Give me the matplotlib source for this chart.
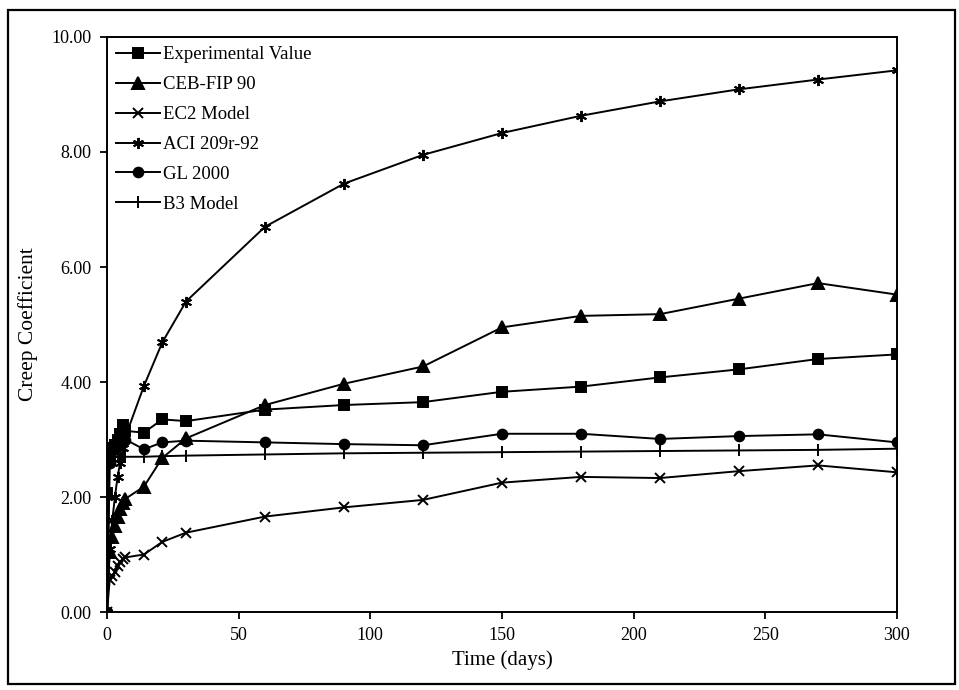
import matplotlib.pyplot as plt
from matplotlib.patches import Rectangle

# time points (days)
days = [0, 1, 2, 3, 4, 5, 6, 7, 14, 21, 30, 60, 90, 120, 150, 180, 210, 240, 270, 300]

experimental = [2.07, 2.70, 2.85, 2.90, 3.00, 3.10, 3.25, 3.15, 3.12, 3.35, 3.32, 3.52, 3.60, 3.65,
                3.83, 3.92, 4.08, 4.22, 4.40, 4.48]
ceb_fip = [0.0, 1.05, 1.30, 1.50, 1.65, 1.80, 1.90, 1.97, 2.18, 2.68, 3.02, 3.60, 3.97, 4.27,
           4.95, 5.15, 5.18, 5.45, 5.72, 5.52]
ec2 = [0.0, 0.55, 0.62, 0.70, 0.80, 0.87, 0.92, 0.95, 1.00, 1.22, 1.38, 1.66, 1.82, 1.95,
       2.25, 2.35, 2.33, 2.45, 2.55, 2.43]
aci = [0.0, 1.10, 1.60, 2.00, 2.35, 2.60, 2.85, 3.05, 3.93, 4.69, 5.40, 6.70, 7.45, 7.95,
       8.33, 8.63, 8.88, 9.09, 9.26, 9.42]
gl2000 = [0.0, 2.60, 2.80, 2.90, 3.00, 3.05, 3.05, 3.00, 2.83, 2.95, 2.98, 2.95, 2.92, 2.90,
          3.10, 3.10, 3.01, 3.06, 3.09, 2.95]
b3 = [0.0, 2.65, 2.68, 2.69, 2.70, 2.70, 2.70, 2.70, 2.70, 2.71, 2.72, 2.74, 2.76, 2.77,
      2.78, 2.79, 2.80, 2.81, 2.82, 2.84]

series = [
    ('Experimental Value', experimental, 's', 7),
    ('CEB-FIP 90', ceb_fip, '^', 8),
    ('EC2 Model', ec2, 'x', 6.5),
    ('ACI 209r-92', aci, (6, 2, 0), 8),
    ('GL 2000', gl2000, 'o', 7),
    ('B3 Model', b3, '|', 8),
]

plt.rcParams['font.family'] = ['Liberation Serif', 'DejaVu Serif']

fig = plt.figure(figsize=(9.59, 6.90), dpi=100)
ax = fig.add_axes([0.1116, 0.113, 0.8237, 0.8334])

for name, vals, mk, ms in series:
    ax.plot(days, vals, color='black', linewidth=1.4, marker=mk, markersize=ms,
            markeredgewidth=1.4, label=name)

ax.set_xlim(0, 300)
ax.set_ylim(0, 10)
ax.set_xticks(range(0, 301, 50))
ax.set_yticks([0, 2, 4, 6, 8, 10])
ax.set_yticklabels(['%.2f' % v for v in [0, 2, 4, 6, 8, 10]])
ax.tick_params(direction='out', length=5, width=1.3, labelsize=13, pad=6)
for s in ax.spines.values():
    s.set_linewidth(1.4)

ax.set_xlabel('Time (days)', fontsize=15, labelpad=4)
ax.set_ylabel('Creep Coefficient', fontsize=15.5, labelpad=10)

ax.legend(loc='upper left', frameon=False, fontsize=13.5, handlelength=2.3,
          labelspacing=0.68, handletextpad=0.2, borderaxespad=0.1,
          bbox_to_anchor=(0.0, 1.0))

# outer border around the whole chart
fig.patches.append(Rectangle((0.008, 0.008), 0.988, 0.978, transform=fig.transFigure,
                             fill=False, edgecolor='black', linewidth=1.6))

fig.savefig('out.png', dpi=100)
